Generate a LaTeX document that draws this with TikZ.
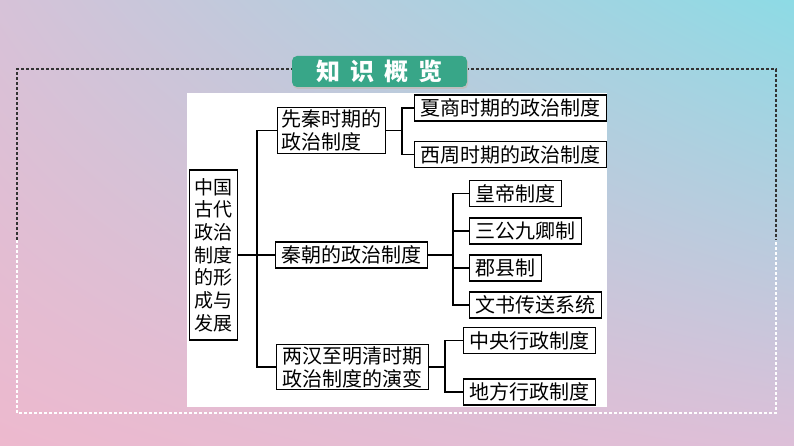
\documentclass[tikz,border=0pt]{standalone}
\usepackage{fontspec}
\newfontfamily\cjk{Noto Sans CJK SC}
\usetikzlibrary{positioning, calc, shadings}
\definecolor{bgTL}{RGB}{214,194,216}
\definecolor{bgTR}{RGB}{141,219,229}
\definecolor{bgBL}{RGB}{237,185,206}
\definecolor{bgBR}{RGB}{221,191,216}
\definecolor{badge}{RGB}{56,166,136}

\begin{document}
\begin{tikzpicture}[x=1pt, y=-1pt,
  box/.style={draw, line width=1.2pt, fill=white, anchor=west, align=left,
    inner xsep=6pt, inner ysep=2pt, minimum height=26pt,
    font=\cjk\fontsize{20}{23}\selectfont},
  link/.style={line width=1.2pt},
  framedash/.style={line width=1.1pt, dash pattern=on 3pt off 2pt}]
  \useasboundingbox (0,0) rectangle (794,446);
  \shade[upper left=bgTL, upper right=bgTR, lower left=bgBL, lower right=bgBR]
    (0,0) rectangle (794,446);
  % dashed frame
  \draw[framedash, black!80] (17,240) -- (17,69) -- (776,69) -- (776,240);
  \draw[framedash, white] (17,240) -- (17,413) -- (776,413) -- (776,240);
  \fill[white] (187,93) rectangle (607,407);
  % title badge
  \fill[black!25, rounded corners=5pt] (293,58) rectangle (468,89);
  \node[fill=badge, rounded corners=5pt, minimum width=175pt, minimum height=31pt,
    text=white, font=\cjk\bfseries\fontsize{24}{24}\selectfont] (title) at (379.5,71.5)
    {知\hspace{10pt}识\hspace{10pt}概\hspace{10pt}览};
  % root
  \node[box, align=center, inner xsep=5pt, minimum height=170pt,
    font=\cjk\fontsize{19}{22.7}\selectfont] (root) at (189,255)
    {中国\\古代\\政治\\制度\\的形\\成与\\发展};
  % level 1
  \node[box, inner xsep=4pt] (xianqin) at (277,130.5) {先秦时期的\\政治制度};
  \node[box] (qin) at (275,255) {秦朝的政治制度};
  \node[box] (lianghan) at (276,367) {两汉至明清时期\\政治制度的演变};
  % level 2
  \node[box] (xiashang) at (414,108) {夏商时期的政治制度};
  \node[box] (xizhou) at (414,154.5) {西周时期的政治制度};
  \node[box] (huangdi) at (469,193.5) {皇帝制度};
  \node[box] (sangong) at (469,231) {三公九卿制};
  \node[box] (junxian) at (469,268) {郡县制};
  \node[box] (wenshu) at (469,305) {文书传送系统};
  \node[box] (zhongyang) at (463,340.5) {中央行政制度};
  \node[box] (difang) at (463,392) {地方行政制度};
  % connectors
  \coordinate (trunk) at (257,0);
  \coordinate (busA) at (402,0);
  \coordinate (busB) at (453,0);
  \coordinate (busC) at (445,0);
  \draw[link] (xianqin.west) -- (xianqin.west -| trunk) |- (lianghan.west);
  \draw[link] (root.east) -- (qin.west);
  \draw[link] (xianqin.east) -- (xianqin.east -| busA);
  \draw[link] (xiashang.west) -- (xiashang.west -| busA) |- (xizhou.west);
  \draw[link] (qin.east) -- (qin.east -| busB);
  \draw[link] (huangdi.west) -- (huangdi.west -| busB) |- (wenshu.west);
  \foreach \n in {sangong, junxian}
    \draw[link] (\n.west) -- (\n.west -| busB);
  \draw[link] (lianghan.east) -- (lianghan.east -| busC);
  \draw[link] (zhongyang.west) -- (zhongyang.west -| busC) |- (difang.west);
\end{tikzpicture}
\end{document}
